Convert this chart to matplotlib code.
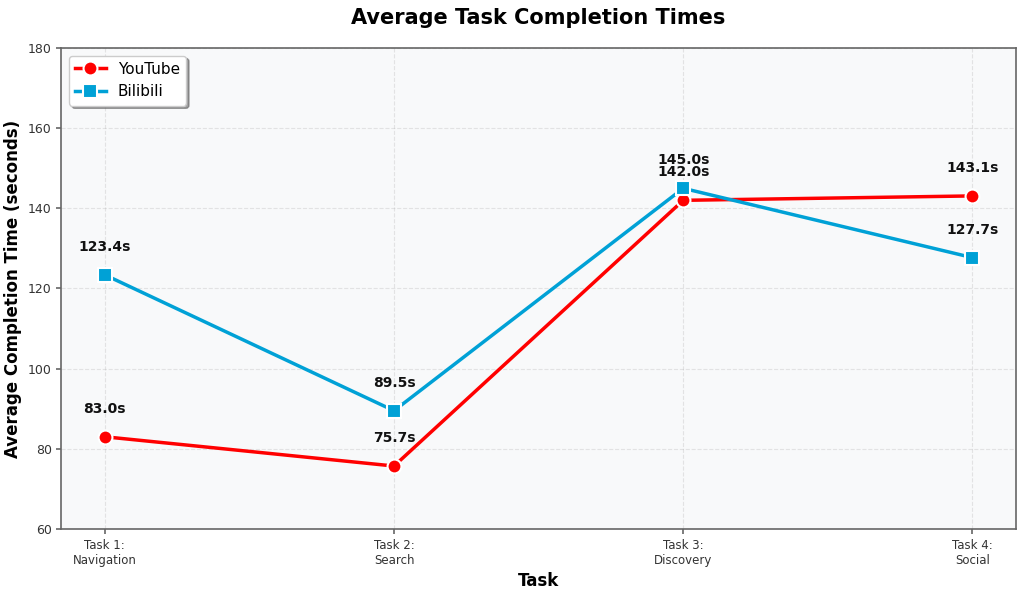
import matplotlib.pyplot as plt

tasks = ["Task 1:\nNavigation", "Task 2:\nSearch", "Task 3:\nDiscovery", "Task 4:\nSocial"]
youtube = [83.0, 75.7, 142.0, 143.1]
bilibili = [123.4, 89.5, 145.0, 127.7]

yt_color = "#FF0000"
bb_color = "#00A1D6"

fig, ax = plt.subplots(figsize=(10.24, 5.93), dpi=100)
ax.set_facecolor("#F8F9FA")

x = range(len(tasks))
ax.plot(x, youtube, color=yt_color, linewidth=2.5, marker="o", markersize=10,
        markeredgecolor="white", markeredgewidth=1.5, label="YouTube")
ax.plot(x, bilibili, color=bb_color, linewidth=2.5, marker="s", markersize=10,
        markeredgecolor="white", markeredgewidth=1.5, label="Bilibili")

for i, v in enumerate(youtube):
    ax.annotate(f"{v:.1f}s", (i, v), xytext=(0, 15), textcoords="offset points",
                ha="center", va="bottom", fontsize=10, fontweight="bold", color="#111111")
for i, v in enumerate(bilibili):
    ax.annotate(f"{v:.1f}s", (i, v), xytext=(0, 15), textcoords="offset points",
                ha="center", va="bottom", fontsize=10, fontweight="bold", color="#111111")

ax.set_xticks(list(x))
ax.set_xticklabels(tasks, fontsize=8.5)
ax.tick_params(axis="both", colors="#666666", labelcolor="#333333", width=1.2)
ax.tick_params(axis="y", labelsize=9)
for s in ax.spines.values():
    s.set_color("#666666")
    s.set_linewidth(1.2)
ax.set_xlim(-0.15, 3.15)
ax.set_ylim(60, 180)
ax.set_xlabel("Task", fontsize=12, fontweight="bold")
ax.set_ylabel("Average Completion Time (seconds)", fontsize=12, fontweight="bold", labelpad=4)
ax.set_title("Average Task Completion Times", fontsize=15, fontweight="bold", pad=17)
ax.grid(True, linestyle="--", alpha=0.3)
ax.legend(loc="upper left", fontsize=11, frameon=True, fancybox=True, shadow=True)

plt.subplots_adjust(left=0.06, right=0.992, top=0.919, bottom=0.108)
fig.savefig("out.png", dpi=100)
